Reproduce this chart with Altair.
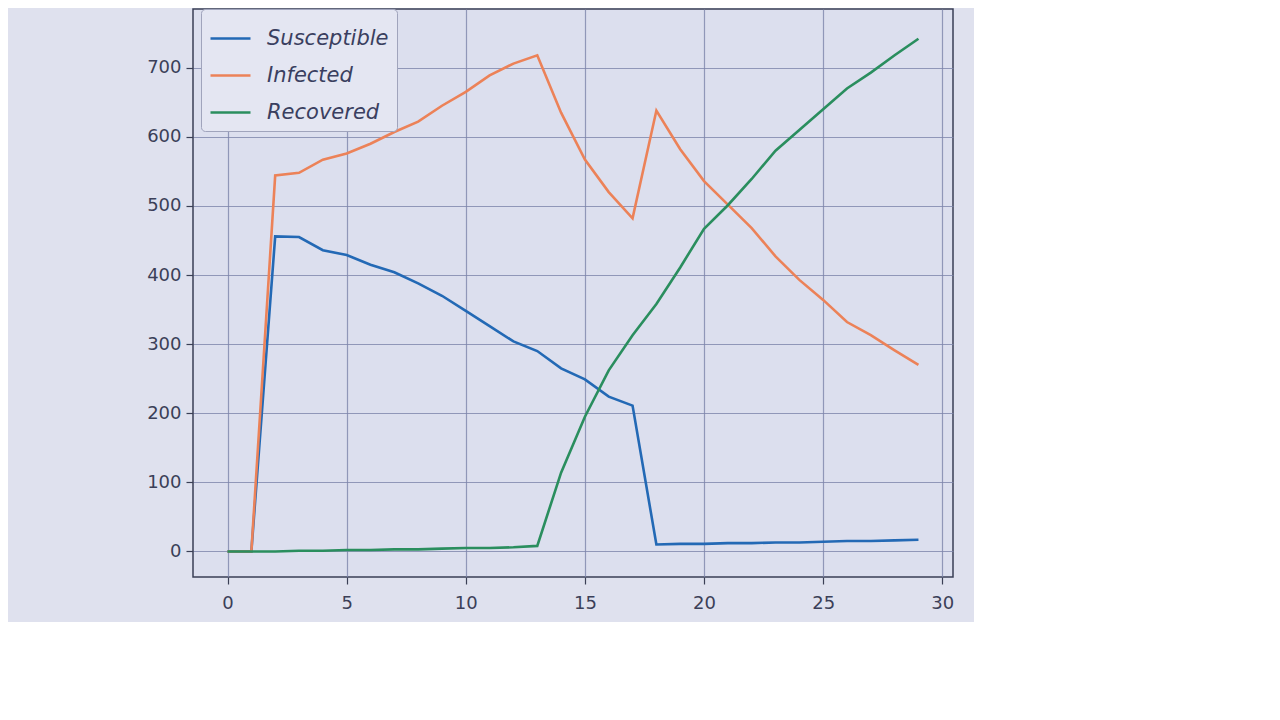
import altair as alt
import pandas as pd

days = list(range(30))
susceptible = [0, 0, 456, 455, 436, 429, 415, 404, 388, 370, 348, 326, 304, 290, 265,
               249, 224, 211, 10, 11, 11, 12, 12, 13, 13, 14, 15, 15, 16, 17]
infected = [0, 0, 544, 548, 567, 576, 590, 607, 622, 645, 665, 689, 706, 718, 635,
            567, 520, 482, 638, 582, 536, 502, 468, 427, 393, 364, 332, 313, 291, 270]
recovered = [0, 0, 0, 1, 1, 2, 2, 3, 3, 4, 5, 5, 6, 8, 114,
             195, 262, 313, 358, 411, 467, 501, 539, 580, 610, 640, 670, 693, 718, 742]

series_names = ["Susceptible", "Infected", "Recovered"]
series_colors = ["#2369b5", "#ec8258", "#2a8e5e"]

rows = []
for name, vals in zip(series_names, [susceptible, infected, recovered]):
    for d, v in zip(days, vals):
        rows.append({"day": d, "count": v, "series": name, "order": series_names.index(name)})
df = pd.DataFrame(rows)

chart = alt.Chart(df).mark_line(strokeWidth=2.6).encode(
    x=alt.X("day:Q",
            scale=alt.Scale(domain=[-1.45, 30.45], nice=False, zero=False),
            axis=alt.Axis(values=[0, 5, 10, 15, 20, 25, 30], title=None, labelPadding=10)),
    y=alt.Y("count:Q",
            scale=alt.Scale(domain=[-37, 785], nice=False, zero=False),
            axis=alt.Axis(values=[0, 100, 200, 300, 400, 500, 600, 700], title=None)),
    color=alt.Color("series:N",
                    scale=alt.Scale(domain=series_names, range=series_colors),
                    sort=series_names,
                    legend=alt.Legend(title=None, orient="none", legendX=8, legendY=0,
                                      symbolType="stroke", symbolSize=1600,
                                      symbolStrokeWidth=2.6, labelFontSize=21,
                                      labelFontStyle="italic", labelColor="#3a3f60",
                                      labelFont="DejaVu Sans", rowPadding=5,
                                      labelOffset=15,
                                      fillColor="#e4e6f2", strokeColor="#a0a4bc",
                                      cornerRadius=4, padding=8)),
    detail="series:N",
    order="order:Q",
).properties(
    width=760,
    height=568,
    padding={"left": 138, "top": 0, "right": 20, "bottom": 10},
    background="#dfe1ee",
).configure_view(
    fill="#dcdfee",
    stroke="#3a3f55",
    strokeWidth=1.5,
).configure_axis(
    grid=True,
    gridColor="#7d84aa",
    gridOpacity=0.8,
    gridWidth=1.2,
    domain=False,
    tickColor="#3a3f55",
    tickSize=7,
    tickWidth=1.2,
    labelFont="DejaVu Sans",
    labelFontSize=18,
    labelColor="#3b3f58",
    labelPadding=5,
)

chart.save("out.html", embed_options={"renderer": "svg", "actions": False})
